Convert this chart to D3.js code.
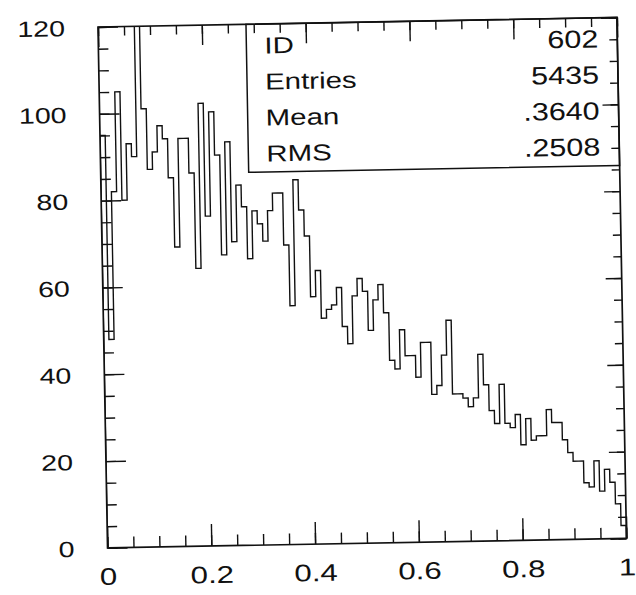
<!DOCTYPE html>
<html><head><meta charset="utf-8">
<script src="https://cdn.jsdelivr.net/npm/d3@7/dist/d3.min.js"></script>
<style>body{margin:0;background:#fff}svg{display:block}</style>
</head><body>
<svg id="c" width="636" height="595"></svg>
<script>
// ---- data (100 bins on [0,1]) ----
const binValues = [
  95, 48, 82, 105, 80, 93, 90, 128, 101, 87,
  91, 97, 94, 85, 69, 94, 94, 86, 64, 102,
  76, 100, 90, 67, 93, 70, 83, 78, 66, 77,
  74, 70, 77, 81, 81, 69, 55, 84, 77, 71,
  57, 63, 52, 54, 55, 59, 50, 46, 57, 61,
  58, 49, 56, 59.5, 53, 42, 40, 49, 43, 43,
  38, 46, 46, 34, 36, 43, 51, 34, 34, 33,
  31, 33, 43, 36, 30, 27, 36, 27, 26, 29,
  22, 28, 23, 24, 24, 30, 27, 27, 23, 20,
  18, 18, 13, 12, 18, 11, 16, 13, 8, 3
];
const xTickValues = [0, 0.2, 0.4, 0.6, 0.8, 1];
const xTickLabels = ["0", "0.2", "0.4", "0.6", "0.8", "1"];
const yTickValues = [0, 20, 40, 60, 80, 100, 120];
const yTickLabels = ["0", "20", "40", "60", "80", "100", "120"];
const statLabels = ["ID", "Entries", "Mean", "RMS"];
const statValues = ["602", "5435", ".3640", ".2508"];

// ---- layout ----
const W = 519, H = 521;
const FONT = "'Liberation Sans', Arial, Helvetica, sans-serif";
const svg = d3.select("#c");
const g = svg.append("g").attr("transform", "translate(98,27) rotate(-1.05)");

const x = d3.scaleLinear().domain([0, 1]).range([0, W]);
const y = d3.scaleLinear().domain([0, 120]).range([H, 0]);
const nb = binValues.length;

svg.append("defs").append("clipPath").attr("id", "plotclip")
  .append("rect").attr("x", 0).attr("y", 0).attr("width", W).attr("height", H);

// ---- histogram outline ----
const pts = [[x(0), y(0)]];
binValues.forEach((v, i) => {
  pts.push([x(i / nb), y(v)]);
  pts.push([x((i + 1) / nb), y(v)]);
});
pts.push([x(1), y(0)]);
g.append("path")
  .attr("d", d3.line()(pts))
  .attr("clip-path", "url(#plotclip)")
  .attr("fill", "none").attr("stroke", "#111").attr("stroke-width", 1.4)
  .attr("stroke-linejoin", "miter");

// ---- ticks (inward) ----
function tickAxis(axis, tr) {
  const a = g.append("g").attr("transform", tr || null).call(axis);
  a.select(".domain").remove();
  a.selectAll("line").attr("stroke", "#111").attr("stroke-width", 1.4);
  a.selectAll("text").remove();
  return a;
}
const xMinor = d3.range(0, 1.0001, 0.05);
const yMinor = d3.range(0, 120.001, 5);
tickAxis(d3.axisBottom(x).tickValues(xMinor).tickSize(-11), `translate(0,${H})`);
tickAxis(d3.axisBottom(x).tickValues(xTickValues).tickSize(-22), `translate(0,${H})`);
tickAxis(d3.axisTop(x).tickValues(xMinor).tickSize(-9), null);
tickAxis(d3.axisTop(x).tickValues(xTickValues).tickSize(-20), null);
tickAxis(d3.axisLeft(y).tickValues(yMinor).tickSize(-10), null);
tickAxis(d3.axisLeft(y).tickValues(yTickValues).tickSize(-20), null);
tickAxis(d3.axisRight(y).tickValues(yMinor).tickSize(-8), `translate(${W},0)`);
tickAxis(d3.axisRight(y).tickValues(yTickValues).tickSize(-16), `translate(${W},0)`);

// ---- frame ----
g.append("rect").attr("x", 0).attr("y", 0).attr("width", W).attr("height", H)
  .attr("fill", "none").attr("stroke", "#111").attr("stroke-width", 1.7);

// ---- tick labels ----
const SX = 1.3;
const xl = g.append("g").attr("transform", `translate(0,${H})`)
  .call(d3.axisBottom(x).tickValues(xTickValues).tickSize(0)
    .tickFormat((d, i) => xTickLabels[i]));
xl.select(".domain").remove();
xl.selectAll("text")
  .attr("font-family", FONT).attr("font-size", 24).attr("fill", "#111")
  .attr("y", 0).attr("dy", 0)
  .attr("transform", `translate(0,37) scale(${SX},1)`);

const yl = g.append("g")
  .call(d3.axisLeft(y).tickValues(yTickValues).tickSize(0)
    .tickFormat((d, i) => yTickLabels[i]));
yl.select(".domain").remove();
yl.selectAll("text")
  .attr("font-family", FONT).attr("font-size", 22).attr("fill", "#111")
  .attr("x", 0).attr("dy", 0).attr("text-anchor", "end")
  .attr("transform", `translate(-33,8) scale(${SX},1)`);

// ---- stats box ----
const bx = 148, bh = 148;
g.append("rect").attr("x", bx).attr("y", 0).attr("width", W - bx).attr("height", bh)
  .attr("fill", "none").attr("stroke", "#111").attr("stroke-width", 1.5);
const sg = g.append("g");
statLabels.forEach((s, i) => {
  sg.append("text").text(s)
    .attr("font-family", FONT).attr("font-size", 23).attr("fill", "#111")
    .attr("transform", `translate(${bx + 18},${29.5 + 36 * i}) scale(1.28,1)`);
  sg.append("text").text(statValues[i])
    .attr("font-family", FONT).attr("font-size", 25).attr("fill", "#111")
    .attr("text-anchor", "end")
    .attr("transform", `translate(${W - 19},${29.5 + 36 * i}) scale(1.22,1)`);
});
</script>
</body></html>
